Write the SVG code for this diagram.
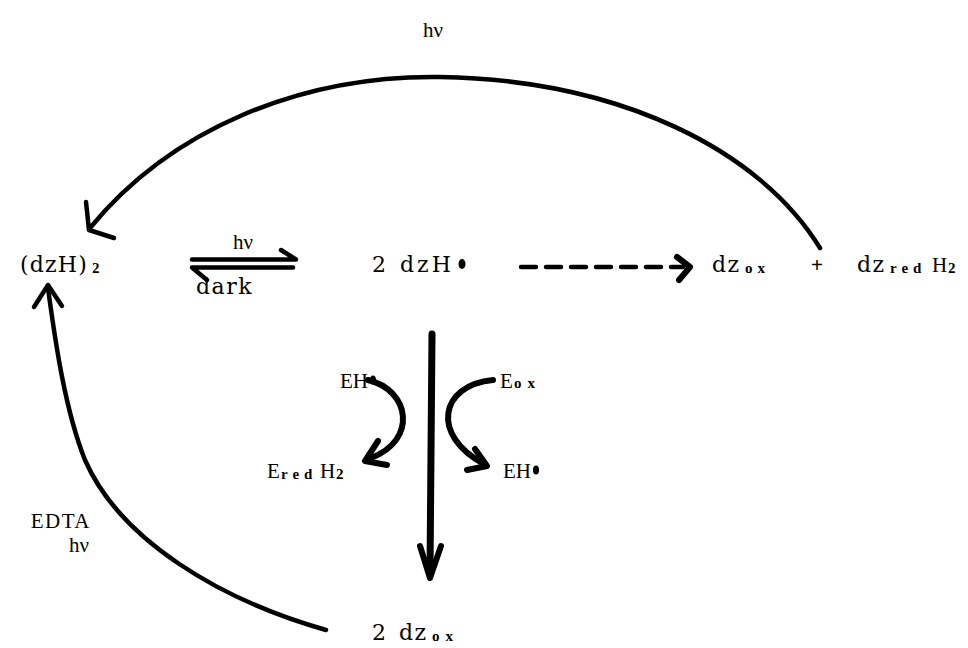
<svg xmlns="http://www.w3.org/2000/svg" width="968" height="648" viewBox="0 0 968 648">
<style>
.t{font-family:"DejaVu Serif","Liberation Serif",serif;font-size:22px;fill:#000}
.s{font-family:"Liberation Serif","DejaVu Serif",serif;font-size:21px;fill:#000}
.sub{font-family:"Liberation Serif",serif;font-size:15px;font-weight:bold}
.ln{fill:none;stroke:#000;stroke-width:4.5;stroke-linecap:round;stroke-linejoin:round}
.bd{fill:none;stroke:#000;stroke-width:6;stroke-linecap:round;stroke-linejoin:round}
.thk{fill:none;stroke:#000;stroke-width:7;stroke-linecap:round;stroke-linejoin:round}
</style>
<rect width="968" height="648" fill="#fff"/>
<g id="connectors">
  <path class="ln" d="M 820 248 C 760 150, 620 80, 440 77 C 300 75, 170 130, 90 228"/>
  <polyline class="ln" points="86,202 89,230 114,238"/>
  <path class="ln" d="M 326 630 C 220 600, 120 540, 85 460 C 65 410, 55 340, 48 288"/>
  <polyline class="ln" points="34,307 48,285 62,306"/>
  <path class="ln" d="M 192 259.5 L 296 259.5 L 281 250"/>
  <path class="ln" d="M 293 267.5 L 192 267.5 L 207 280"/>
  <path class="ln" d="M 521 267 L 683 267" stroke-width="5.5" stroke-dasharray="15,10"/>
  <polyline class="bd" points="677,257 690,267 679,280"/>
  <path class="thk" d="M 432 334 L 430 572"/>
  <polyline class="bd" points="420,546 430,578 441,546"/>
  <path class="bd" d="M 368 380 C 410 390, 418 440, 371 458"/>
  <polyline class="bd" points="378,441 365,461 387,465"/>
  <path class="bd" d="M 493 380 C 440 385, 430 435, 484 464"/>
  <polyline class="bd" points="475,449 487,466 467,470"/>
</g>
<g id="n-hv-top"><text class="s" x="423" y="37">hν</text></g>
<g id="n-dzH2"><text class="t" x="20" y="272" letter-spacing="1.2">(dzH)</text><text class="sub" x="92" y="273">2</text></g>
<g id="n-hv-eq"><text class="s" x="233" y="249">hν</text></g>
<g id="n-dark"><text class="t" x="196" y="294" letter-spacing="1.5">dark</text></g>
<g id="n-2dzH"><text class="t" x="372" y="272">2</text><text class="t" x="400" y="272" letter-spacing="3">dzH</text><ellipse cx="462" cy="264" rx="3.5" ry="5" fill="#000"/></g>
<g id="n-dzox"><text class="t" x="712" y="272" letter-spacing="1.5">dz</text><text class="sub" x="745" y="273" letter-spacing="5">ox</text></g>
<g id="n-plus"><text class="s" x="811" y="272" font-weight="bold">+</text></g>
<g id="n-dzred"><text class="t" x="857" y="272" letter-spacing="1.5">dz</text><text class="sub" x="890" y="273" letter-spacing="5">red</text><text class="s" x="932" y="272">H</text><text class="sub" x="948" y="273">2</text></g>
<g id="n-EH1"><text class="s" x="340" y="388">EH</text><ellipse cx="373" cy="380" rx="3" ry="4.5" fill="#000"/></g>
<g id="n-Eox"><text class="s" x="500" y="388">E</text><text class="sub" x="514" y="388" letter-spacing="6">ox</text></g>
<g id="n-Ered"><text class="s" x="267" y="478">E</text><text class="sub" x="281" y="479" letter-spacing="5">red</text><text class="s" x="320" y="478">H</text><text class="sub" x="336" y="479">2</text></g>
<g id="n-EH2"><text class="s" x="503" y="478">EH</text><ellipse cx="536" cy="470" rx="3" ry="4.5" fill="#000"/></g>
<g id="n-EDTA"><text class="s" x="91" y="528" text-anchor="end" letter-spacing="1.5">EDTA</text><text class="s" x="89" y="552" text-anchor="end">hν</text></g>
<g id="n-2dzox"><text class="t" x="372" y="640">2</text><text class="t" x="399" y="640" letter-spacing="1.5">dz</text><text class="sub" x="432" y="641" letter-spacing="6">ox</text></g>
</svg>
